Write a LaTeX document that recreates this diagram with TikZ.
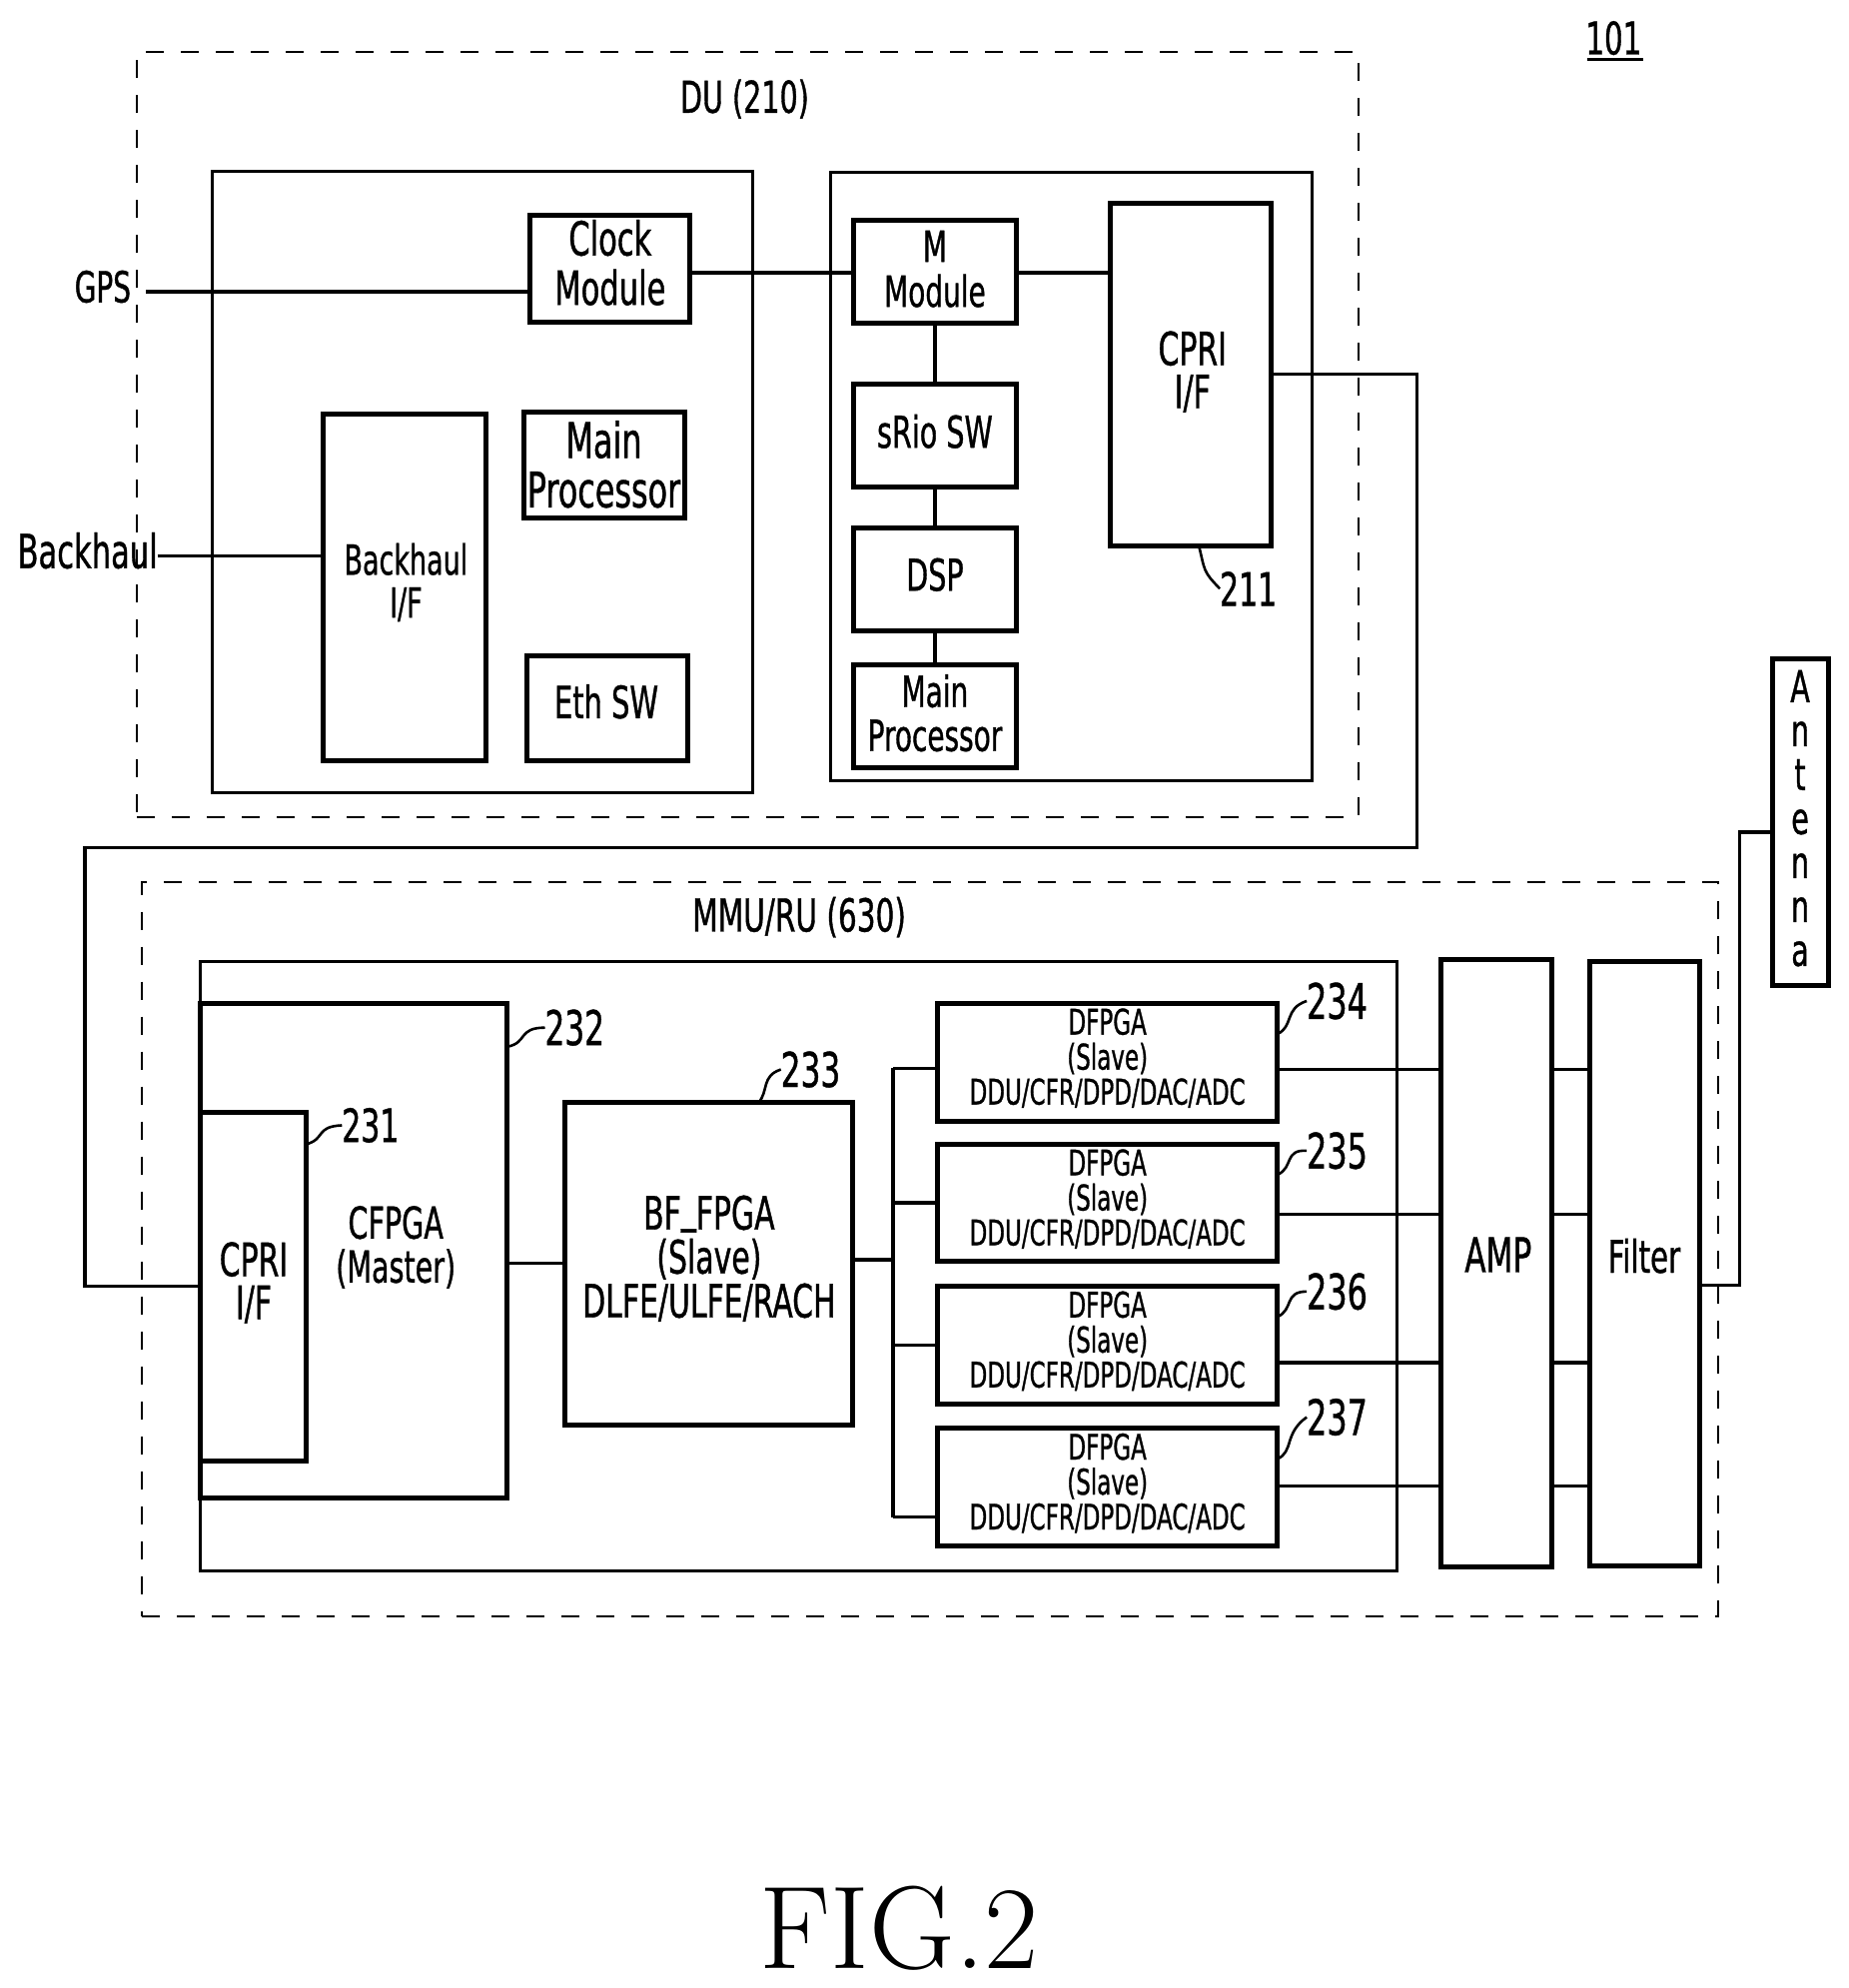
\documentclass[tikz,border=0pt]{standalone}
\usepackage{fontspec}
\setsansfont[FakeStretch=0.65,FakeBold=0.8]{DejaVu Sans}
\newcommand{\bx}[6]{% name x1 y1 x2 y2 style
  \pgfmathsetmacro{\bw}{(#4-#2)*1.27}\pgfmathsetmacro{\bh}{(#5-#3)*1.27}
  \node[#6,minimum width=\bw pt,minimum height=\bh pt] (#1) at ({(#2+#4)/2},{(#3+#5)/2}) {};}
\newcommand{\tx}[6]{% name x y size leading text
  \node[lbl,font=\sffamily\fontsize{#4}{#5}\selectfont] (#1) at (#2,#3) {#6};}
\tikzset{
  thinbox/.style={draw=black,line width=3pt,inner sep=0pt,outer sep=0pt},
  thickbox/.style={draw=black,line width=5pt,inner sep=0pt,outer sep=0pt},
  dashbox/.style={draw=black,line width=2pt,dash pattern=on 18pt off 17pt,inner sep=0pt,outer sep=0pt},
  lbl/.style={align=center,inner sep=0pt,outer sep=0pt,text=black},
  wire/.style={draw=black,line width=3.2pt,line join=miter},
  leader/.style={draw=black,line width=2.6pt},
}
\begin{document}
\begin{tikzpicture}[x=1.27pt,y=-1.27pt]
\useasboundingbox (0,0) rectangle (1457.5,1567);
% DU
\bx{du}{108}{41}{1071}{644}{dashbox}
\tx{dut}{587}{78}{44}{48}{DU (210)}
\bx{dul}{167}{135}{593}{625}{thinbox}
\bx{dur}{655}{136}{1034}{615}{thinbox}
\bx{clock}{418}{170}{544}{254}{thickbox}
\tx{clockt}{481}{207}{47}{49.5}{Clock\\Module}
\tx{gps}{81}{226}{43}{46}{GPS}
\tx{bh}{69}{434}{47}{49}{Backhaul}
\bx{bhif}{255}{326}{383}{600}{thickbox}
\tx{bhift}{320}{459}{41.5}{43}{Backhaul\\I/F}
\bx{mp}{413}{325}{540}{408}{thickbox}
\tx{mpt}{476}{366}{49}{49.5}{Main\\Processor}
\bx{eth}{415}{517}{542}{600}{thickbox}
\tx{etht}{478}{553}{44.5}{46}{Eth SW}
\bx{mm}{673}{174}{801}{255}{thickbox}
\tx{mmt}{737}{212}{43}{45}{M\\Module}
\bx{srio}{673}{303}{801}{384}{thickbox}
\tx{sriot}{737}{340}{44}{46}{sRio SW}
\bx{dsp}{673}{416}{801}{497}{thickbox}
\tx{dspt}{737}{453}{44}{46}{DSP}
\bx{mp2}{673}{524}{801}{605}{thickbox}
\tx{mp2t}{737}{562}{43}{44}{Main\\Processor}
\bx{cpri}{875}{160}{1002}{430}{thickbox}
\tx{cprit}{940}{293}{46}{43}{CPRI\\I/F}
\tx{n211}{984}{464}{46}{48}{211}
\tx{n101}{1272}{30}{45}{46}{101}
\coordinate (ul1) at (1251,47); \coordinate (ul2) at (1295,47);
\draw[line width=2.6pt] (ul1) -- (ul2);
% connectors DU
\draw[wire] (gps.east |- 0,230) ++(12,0) -- (clock.west |- 0,230);
\draw[wire] (bh.east |- 0,438) -- (bhif.west |- 0,438);
\draw[wire] (clock.east |- 0,215) -- (mm.west |- 0,215);
\draw[wire] (mm.east |- 0,215) -- (cpri.west |- 0,215);
\draw[wire] (mm) -- (srio);
\draw[wire] (srio) -- (dsp);
\draw[wire] (dsp) -- (mp2);
\draw[leader] (cpri.south -| 945,0) .. controls (950,450) and (948,450) .. (n211.west);
% MMU
\bx{mmu}{112}{695}{1354}{1274}{dashbox}
\tx{mmut}{630}{723}{45.5}{46}{MMU/RU (630)}
\bx{inner}{158}{758}{1101}{1238}{thinbox}
\bx{cfpga}{158}{791}{400}{1181}{thickbox}
\tx{cfpgat}{312}{983}{44}{44}{CFPGA\\(Master)}
\bx{cpri2}{158}{877}{241}{1152}{thickbox}
\tx{cpri2t}{200}{1011}{46}{43}{CPRI\\I/F}
\tx{n232}{453}{810}{48}{48}{232}
\tx{n231}{292}{887}{46}{48}{231}
\tx{n233}{639}{843}{48}{48}{233}
\bx{bf}{445}{869}{672}{1123}{thickbox}
\tx{bft}{559}{992}{46}{44}{BF\raisebox{8pt}{\_}FPGA\\(Slave)\\DLFE/ULFE/RACH}
\foreach \nm/\top/\lab/\laby/\ay in {a/791/234/789/843,b/902/235/907/957,c/1014/236/1018/1074,d/1126/237/1117/1171}{
  \bx{df\nm}{739}{\top}{1007}{\top+92.5}{thickbox}
  \tx{dft\nm}{873}{\top+43}{35.4}{35}{DFPGA\\(Slave)\\DDU/CFR/DPD/DAC/ADC}
  \tx{dn\nm}{1054}{\laby}{49}{48}{\lab}
  \draw[leader] (df\nm.east |- 0,\top+24) .. controls (1020,\top+18) and (1012,\top+4) .. (dn\nm.west);
}
\bx{amp}{1136}{756}{1223}{1235}{thickbox}
\tx{ampt}{1181}{989}{48}{46}{AMP}
\bx{filter}{1253}{758}{1340}{1234}{thickbox}
\tx{filtert}{1296}{990}{45}{46}{Filter}
\bx{ant}{1397}{519}{1441}{777}{thickbox}
\tx{antt}{1419}{645}{44}{44}{A\\n\\t\\e\\n\\n\\a}
\tx{fig}{709}{1520}{10}{12}{\rmfamily\fontsize{118}{120}\selectfont FIG.2}
% connectors MMU
\draw[wire] (cpri.east |- 0,295) -| (1117,668) -| (67,1014) -- (cpri2.west |- 0,1014);
\draw[wire] (cfpga.east |- 0,996) -- (bf.west |- 0,996);
\coordinate (bus) at (704,993);
\draw[wire] (bf.east |- 0,993) -- (bus);
\draw[wire] (704,842) -- (704,1196);
\draw[wire] (704,842) -- (dfa.west |- 0,842);
\draw[wire] (704,948) -- (dfb.west |- 0,948);
\draw[wire] (704,1060) -- (dfc.west |- 0,1060);
\draw[wire] (704,1196) -- (dfd.west |- 0,1196);
\foreach \nm/\ay in {a/843,b/957,c/1074,d/1171}{
  \draw[wire] (df\nm.east |- 0,\ay) -- (amp.west |- 0,\ay);
  \draw[wire] (amp.east |- 0,\ay) -- (filter.west |- 0,\ay);
}
\draw[wire] (filter.east |- 0,1013) -| (1371,656) -- (ant.west |- 0,656);
\draw[leader] (cfpga.east |- 0,825) .. controls (416,822) and (408,810) .. (n232.west);
\draw[leader] (cpri2.east |- 0,902) .. controls (257,898) and (248,888) .. (n231.west);
\draw[leader] (bf.north -| 598,0) .. controls (606,860) and (600,848) .. (n233.west);
\end{tikzpicture}
\end{document}
